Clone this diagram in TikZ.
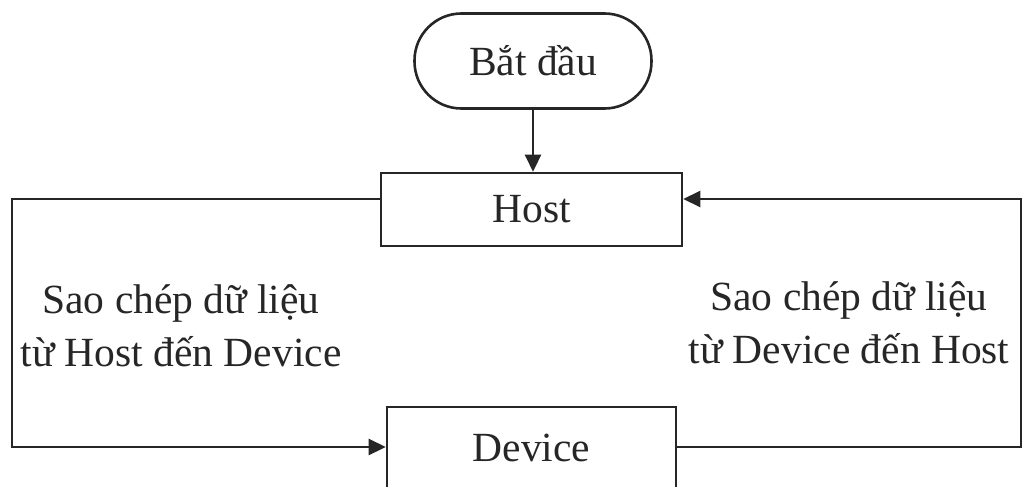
\documentclass[tikz,border=0pt]{standalone}
\usepackage{fontspec}
\setmainfont{Liberation Serif}
\usetikzlibrary{arrows.meta,calc}
\begin{document}
\begin{tikzpicture}[x=1pt,y=-1pt,
  line width=2.6pt, draw=black!85,
  every node/.style={font=\fontsize{41.5}{53}\selectfont, text=black!85, inner sep=0pt},
  terminal/.style={draw, rectangle, rounded corners=47pt, minimum width=237pt, minimum height=95pt},
  procbox/.style={draw, rectangle},
  flow/.style={-{Triangle[length=17pt,width=16pt]}},
  caption/.style={align=center}]
  \useasboundingbox (0,0) rectangle (1023,487);
  \clip (0,0) rectangle (1023,487);

  % boxes
  \node[terminal] (start) at (533,61) {Bắt đầu};
  \node[procbox, minimum width=301pt, minimum height=73pt] (host) at (531.5,209.5) {Host};
  \node[procbox, minimum width=289pt, minimum height=82pt] (dev) at (531.5,448) {Device};

  % loop corners
  \coordinate (tl) at (12,199);
  \coordinate (bl) at (12,447);
  \coordinate (br) at (1021,447);
  \coordinate (tr) at (1021,199);

  % connectors
  \draw[flow] (start.south) -- (start.south |- host.north);
  \draw[flow] ([yshift=10.5pt]host.west) -- (tl) -- (bl) -- (dev.west |- bl);
  \draw[flow] (dev.east |- br) -- (br) -- (tr) -- ([yshift=10.5pt]host.east);

  % side labels
  \node[caption] (lcap) at (181,326) {Sao chép dữ liệu\\từ Host đến Device};
  \node[caption] (rcap) at (849,323) {Sao chép dữ liệu\\từ Device đến Host};
\end{tikzpicture}
\end{document}
